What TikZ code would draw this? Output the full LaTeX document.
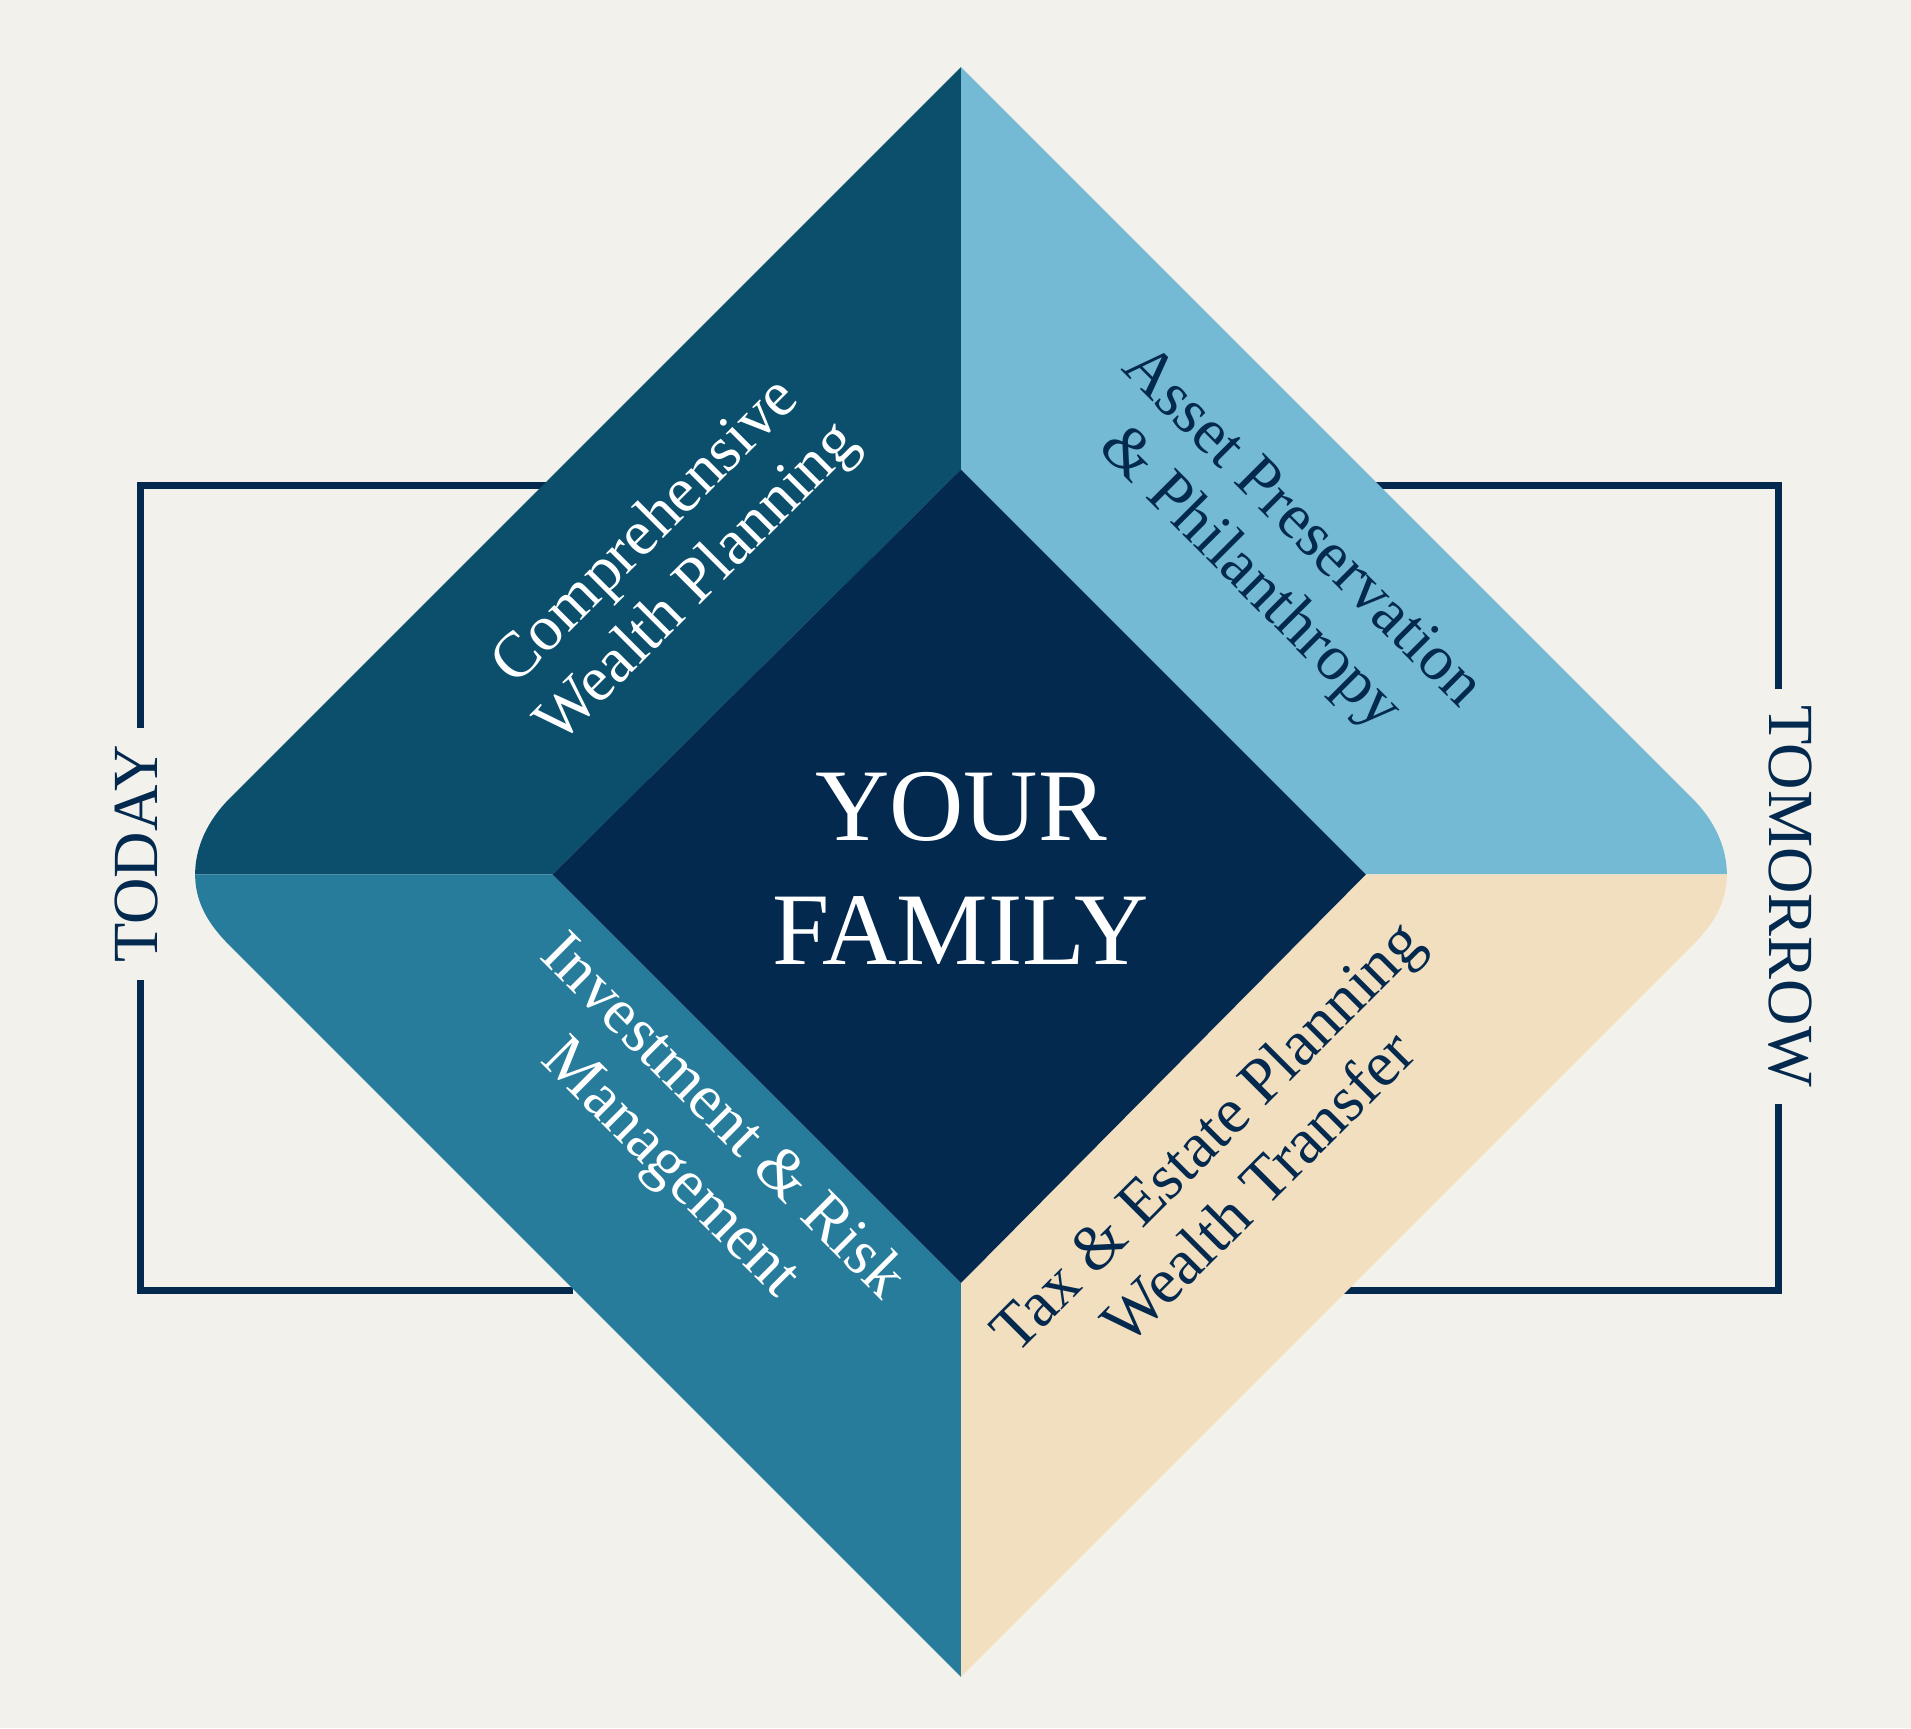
\documentclass[tikz,border=0pt]{standalone}
\usepackage{fontspec}
\setmainfont{Liberation Serif}
\begin{document}
\begin{tikzpicture}[x=0.01cm,y=-0.01cm,
  lbl/.style={align=center,font=\fontsize{15}{17}\selectfont},
  side/.style={fill=bg,inner sep=4pt,font=\fontsize{15}{17}\selectfont,text=navy}]
\definecolor{bg}{HTML}{F3F1EC}
\definecolor{tl}{HTML}{0B4F6C}
\definecolor{tr}{HTML}{74BAD4}
\definecolor{bl}{HTML}{277B9B}
\definecolor{br}{HTML}{F2DFBF}
\definecolor{navy}{HTML}{03294F}
\fill[bg] (0,0) rectangle (1567,1417);
\useasboundingbox (0,0) rectangle (1567,1417);
% brackets
\draw[navy,line width=1.6pt] (470,398) -- (115,398) -- (115,1058) -- (470,1058);
\draw[navy,line width=1.6pt] (1100,398) -- (1458,398) -- (1458,1058) -- (1100,1058);
\node[side,rotate=90] (today) at (112,700) {TODAY};
\node[side,rotate=-90] (tom) at (1468,735) {TOMORROW};
% quadrants
\coordinate (T) at (788,55); \coordinate (B) at (788,1375);
\coordinate (ct) at (788,385); \coordinate (cl) at (453,717);
\coordinate (cr) at (1120,717); \coordinate (cb) at (788,1052);
\fill[tl] (T) -- (ct) -- (cl) -- (160,717) .. controls (160,695) and (170,673) .. (188,655) -- cycle;
\fill[tr] (T) -- (ct) -- (cr) -- (1416,717) .. controls (1416,695) and (1406,673) .. (1388,655) -- cycle;
\fill[bl] (B) -- (cb) -- (cl) -- (160,717) .. controls (160,739) and (170,757) .. (188,775) -- cycle;
\fill[br] (B) -- (cb) -- (cr) -- (1416,717) .. controls (1416,739) and (1406,757) .. (1388,775) -- cycle;
\fill[navy] (ct) -- (cr) -- (cb) -- (cl) -- cycle;
% labels
\node[lbl,text=white,rotate=45] (q1) at (552,458) {Comprehensive\\Wealth Planning};
\node[lbl,text=navy,rotate=-45] (q2) at (1045,455) {Asset Preservation\\\& Philanthropy};
\node[lbl,text=white,rotate=-45] (q3) at (570,938) {Investment \& Risk\\Management};
\node[lbl,text=navy,rotate=45] (q4) at (1010,952) {Tax \& Estate Planning\\Wealth Transfer};
\node[align=center,text=white,font=\fontsize{24}{29}\selectfont] (c) at (788,712) {YOUR\\FAMILY};
\end{tikzpicture}
\end{document}
